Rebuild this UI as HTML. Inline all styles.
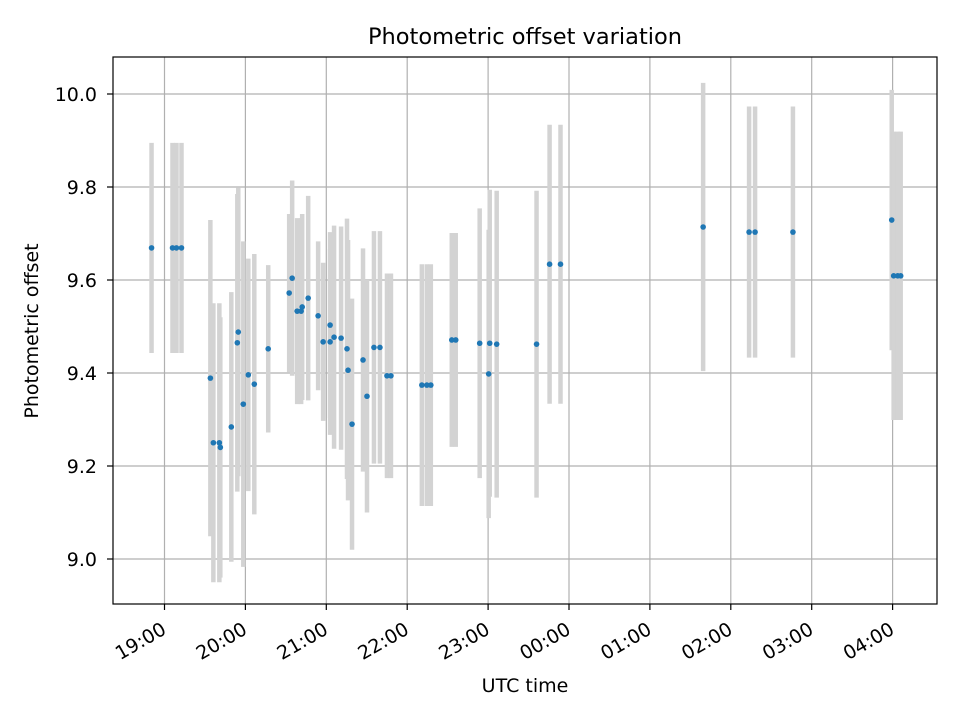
<!DOCTYPE html>
<html><head><meta charset="utf-8">
<style>
body{margin:0;background:#fff;}
svg{display:block;font-family:"DejaVu Sans","Liberation Sans",sans-serif;}
</style></head>
<body>
<svg id="chart" width="960" height="720" viewBox="0 0 960 720">
<rect width="960" height="720" fill="#fff"/>
<text x="525" y="44" font-size="22.5" text-anchor="middle">Photometric offset variation</text>
<text x="525" y="692" font-size="19" text-anchor="middle">UTC time</text>
<text transform="translate(38,331) rotate(-90)" font-size="19" text-anchor="middle">Photometric offset</text>
<g id="grid"></g><g id="bars"></g><g id="pts"></g><g id="axes"></g>
</svg>
<script>
// hours after 19:00 UTC
const times=[-0.16,0.099,0.148,0.21,0.567,0.604,0.678,0.69,0.826,0.9,0.912,0.974,1.036,1.11,1.282,1.541,1.578,1.64,1.689,1.702,1.776,1.899,1.961,2.047,2.047,2.096,2.183,2.256,2.269,2.318,2.454,2.503,2.589,2.663,2.75,2.799,3.181,3.243,3.292,3.551,3.6,3.896,4.007,4.02,4.106,4.599,4.76,4.895,6.658,7.226,7.3,7.768,8.989,9.013,9.063,9.1];
const offsets=[9.669,9.669,9.669,9.669,9.389,9.25,9.25,9.24,9.284,9.465,9.488,9.333,9.396,9.376,9.452,9.572,9.604,9.533,9.533,9.542,9.561,9.523,9.467,9.503,9.467,9.477,9.475,9.452,9.406,9.29,9.428,9.35,9.455,9.455,9.394,9.394,9.374,9.374,9.374,9.471,9.471,9.464,9.398,9.464,9.462,9.462,9.634,9.634,9.714,9.703,9.703,9.703,9.729,9.609,9.609,9.609];
const errors=[0.226,0.226,0.226,0.226,0.34,0.3,0.3,0.28,0.29,0.32,0.31,0.35,0.25,0.28,0.18,0.17,0.21,0.2,0.2,0.2,0.22,0.16,0.17,0.2,0.2,0.24,0.24,0.28,0.28,0.27,0.24,0.25,0.25,0.25,0.22,0.22,0.26,0.26,0.26,0.23,0.23,0.29,0.31,0.33,0.33,0.33,0.3,0.3,0.31,0.27,0.27,0.27,0.28,0.31,0.31,0.31];
const yTicks=[9.0,9.2,9.4,9.6,9.8,10.0];
const xTickLabels=["19:00","20:00","21:00","22:00","23:00","00:00","01:00","02:00","03:00","04:00"];
const L=113,R=937,T=57,B=604;
const xs=h=>164.5+h*80.9;
const ys=v=>94+(10-v)*465;
const NS="http://www.w3.org/2000/svg";
function mk(tag,attrs,parent){const e=document.createElementNS(NS,tag);for(const k in attrs)e.setAttribute(k,attrs[k]);parent.appendChild(e);return e;}
const grid=document.getElementById('grid'),bars=document.getElementById('bars'),pts=document.getElementById('pts'),axes=document.getElementById('axes');
yTicks.forEach(v=>{const y=ys(v);
 let g=mk('line',{x1:L,x2:R,y1:y,y2:y,stroke:'#b0b0b0','stroke-width':1.2},grid);
 
 
 let t=mk('line',{x1:L-6,x2:L,y1:y,y2:y,stroke:'#000','stroke-width':1.2},axes);
 
 
 let tx=mk('text',{x:L-16,y:y+7,'font-size':19,'text-anchor':'end'},axes);tx.textContent=v.toFixed(1);
 
 
});
xTickLabels.forEach((s,i)=>{const x=xs(i);
 let g=mk('line',{x1:x,x2:x,y1:T,y2:B,stroke:'#b0b0b0','stroke-width':1.2},grid);
 
 
 let t=mk('line',{x1:x,x2:x,y1:B,y2:B+6,stroke:'#000','stroke-width':1.2},axes);
 
 
 let tx=mk('text',{transform:`translate(${x+3},${B+29}) rotate(-30)`,'font-size':19,'text-anchor':'end'},axes);tx.textContent=s;
 
 
});
times.forEach((h,i)=>{const x=xs(h);
 let b=mk('line',{x1:x,x2:x,y1:ys(offsets[i]+errors[i]),y2:ys(offsets[i]-errors[i]),stroke:'#d3d3d3','stroke-width':4.5},bars);
 
 
 let c=mk('circle',{cx:x,cy:ys(offsets[i]),r:2.8,fill:'#1f77b4'},pts);
 
 
});
let fr=mk('rect',{x:L,y:T,width:R-L,height:B-T,fill:'none',stroke:'#000','stroke-width':1.2},axes);


</script>
</body></html>
